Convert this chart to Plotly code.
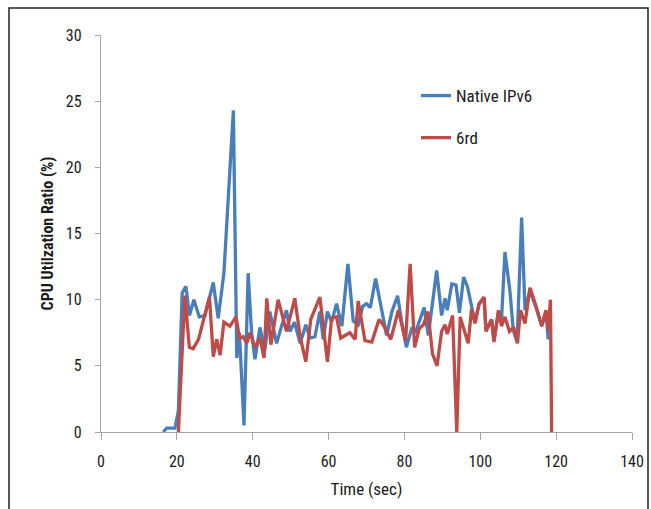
import plotly.graph_objects as go

# Native IPv6 series
native_t = [16.4, 17.3, 19.5, 20.4, 21.4, 22.4, 23.3, 24.5, 25.9, 27.4, 29.6, 30.9, 32.4, 34.9,
            35.8, 36.5, 37.7, 38.8, 39.7, 40.6, 41.9, 43.2, 44.5, 46.3, 47.6, 48.9, 49.8, 51.0,
            52.5, 54.0, 55.1, 56.4, 57.7, 58.6, 59.7, 60.8, 62.1, 63.5, 65.1, 66.5, 67.8, 69.0,
            70.0, 71.0, 72.4, 73.8, 75.3, 76.7, 78.2, 79.4, 80.5, 81.9, 83.0, 85.2, 86.3, 88.5,
            89.8, 90.7, 91.3, 92.5, 93.6, 94.5, 95.6, 96.6, 97.7, 98.6, 99.7, 101.0, 101.5,
            103.0, 103.6, 104.8, 105.6, 106.5, 107.8, 108.7, 109.7, 110.9, 111.8, 113.1, 114.7,
            116.2, 117.3, 117.9]
native_v = [0, 0.3, 0.3, 1.6, 10.5, 11.0, 8.8, 10.0, 8.7, 8.8, 11.3, 8.6, 12.0, 24.3,
            5.6, 7.5, 0.5, 12.0, 7.5, 5.5, 7.9, 6.2, 9.1, 6.7, 8.0, 9.2, 7.6, 8.3,
            6.7, 8.1, 7.1, 7.2, 9.1, 7.0, 9.1, 8.3, 9.7, 8.0, 12.7, 8.4, 8.1, 9.5,
            9.7, 9.4, 11.6, 9.4, 7.3, 9.1, 10.3, 8.1, 6.4, 7.8, 7.6, 9.4, 7.3, 12.2,
            8.8, 10.1, 9.2, 11.2, 11.1, 9.0, 11.7, 11.0, 9.5, 8.3, 9.7, 10.1, 7.7,
            8.5, 6.9, 9.1, 8.5, 13.6, 10.7, 7.7, 6.8, 16.2, 9.2, 10.7, 9.4,
            8.0, 9.1, 7.0]

# 6rd series
rd_t = [20.4, 22.1, 23.3, 24.3, 25.7, 28.6, 29.6, 30.5, 31.4, 32.4, 34.0, 35.6, 36.5, 37.5,
        38.4, 39.3, 40.6, 41.9, 43.0, 43.7, 44.8, 46.7, 48.9, 51.1, 52.5, 54.0, 55.3, 57.7,
        59.7, 60.8, 62.1, 63.2, 65.6, 67.0, 67.8, 69.6, 71.4, 73.3, 74.4, 76.4, 78.4, 80.3,
        81.5, 82.7, 83.9, 85.0, 86.2, 87.4, 88.6, 89.8, 90.7, 91.3, 92.7, 93.8, 94.7, 96.8,
        97.7, 98.6, 99.7, 101.0, 101.5, 103.0, 103.6, 104.8, 105.6, 106.5, 107.7, 108.8,
        109.8, 110.6, 111.8, 113.1, 114.7, 116.2, 117.3, 117.9, 118.5, 118.8]
rd_v = [0, 10.3, 6.4, 6.3, 7.0, 10.2, 5.7, 7.0, 5.8, 8.3, 8.0, 8.7, 7.1, 7.2,
        6.7, 7.5, 6.4, 7.1, 5.6, 10.1, 6.6, 10.0, 7.6, 10.1, 7.2, 5.3, 8.5, 10.2,
        5.3, 8.6, 8.7, 7.1, 7.5, 7.0, 9.9, 6.9, 6.8, 8.5, 8.1, 7.0, 9.2, 6.9,
        12.7, 6.4, 7.8, 8.1, 9.1, 5.9, 5.0, 7.6, 8.1, 7.4, 8.8, 0, 8.7, 6.7,
        9.3, 8.2, 9.7, 10.2, 7.6, 8.5, 6.8, 9.2, 8.0, 8.7, 7.6, 7.9,
        6.7, 9.2, 8.2, 10.9, 9.5, 8.0, 9.2, 7.7, 10.0, 0]

series_names = ["Native IPv6", "6rd"]
x_ticks = [0, 20, 40, 60, 80, 100, 120, 140]
y_ticks = [0, 5, 10, 15, 20, 25, 30]

FONT = "Liberation Sans Narrow, Arial Narrow, Roboto Condensed, sans-serif"
AXIS_COLOR = "#a6a6a6"

fig = go.Figure()
fig.add_trace(go.Scatter(x=native_t, y=native_v, mode="lines", name=series_names[0],
                         legendgroup="a", line=dict(color="#4a7ebb", width=3.3)))
fig.add_trace(go.Scatter(x=rd_t, y=rd_v, mode="lines", name=series_names[1],
                         legendgroup="b", line=dict(color="#be4b48", width=3.3)))

W, H = 651, 509
L, R, T, B = 101, 632, 35, 432
pw, ph = R - L, B - T

def px_x(p):
    return (p - L) / pw

def px_y(p):
    return (B - p) / ph

fig.update_layout(
    width=W, height=H, autosize=False,
    margin=dict(l=L, r=W - R, t=T, b=H - B, pad=0, autoexpand=False),
    paper_bgcolor="white", plot_bgcolor="white",
    font=dict(family=FONT, size=16, color="#1a1a1a"),
    showlegend=True,
    legend=dict(x=px_x(416), y=px_y(78), xanchor="left", yanchor="top",
                bgcolor="rgba(0,0,0,0)", borderwidth=0, tracegroupgap=17,
                font=dict(family=FONT, size=17, color="#1a1a1a")),
    xaxis=dict(range=[0, 140], tickmode="array", tickvals=x_ticks,
               ticktext=[str(v) for v in x_ticks], automargin=False,
               showgrid=False, zeroline=False, showline=True, linecolor=AXIS_COLOR,
               linewidth=1.3, ticks="outside", ticklen=7, tickcolor=AXIS_COLOR,
               tickwidth=1.3, ticklabelstandoff=8,
               title=dict(text="Time (sec)", standoff=12,
                          font=dict(family=FONT, size=17, color="#1a1a1a"))),
    yaxis=dict(range=[0, 30], tickmode="array", tickvals=y_ticks,
               ticktext=[str(v) for v in y_ticks], automargin=False,
               showgrid=False, zeroline=False, showline=True, linecolor=AXIS_COLOR,
               linewidth=1.3, ticks="outside", ticklen=5, tickcolor=AXIS_COLOR,
               tickwidth=1.3, ticklabelstandoff=10,
               title=dict(text="<b>CPU Utilzation Ratio (%)</b>", standoff=8,
                          font=dict(family=FONT, size=16, color="#1a1a1a"))),
    shapes=[dict(type="rect", xref="paper", yref="paper",
                 x0=px_x(9), x1=px_x(648), y0=px_y(520), y1=px_y(8),
                 line=dict(color="#222222", width=1.5), fillcolor="rgba(0,0,0,0)",
                 layer="below")],
)

fig.write_html("out.html")
